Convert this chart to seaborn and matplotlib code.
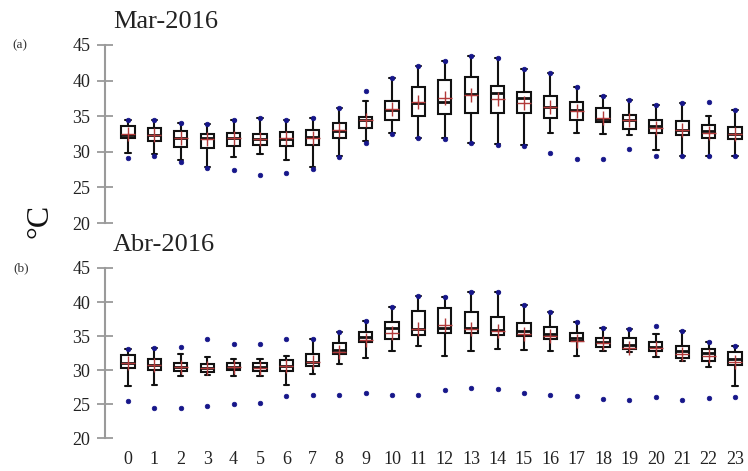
import matplotlib
matplotlib.use("Agg")
import matplotlib.pyplot as plt
import pandas as pd
import seaborn as sns

hours = list(range(24))

# March 2016 hourly temperature statistics (°C)
mar_max = [34.5, 34.5, 34.0, 33.9, 34.4, 34.7, 34.5, 34.7, 36.2, 38.6, 40.4, 42.0,
           42.8, 43.5, 43.2, 41.6, 41.1, 39.1, 37.9, 37.25, 36.55, 36.8, 36.95, 35.9]
mar_whishi = [34.5, 34.5, 34.0, 33.9, 34.4, 34.7, 34.5, 34.7, 36.2, 37.15, 40.4, 42.0,
              42.8, 43.5, 43.2, 41.6, 41.1, 39.1, 37.9, 37.25, 36.55, 36.8, 35.0, 35.9]
mar_q3 = [33.6, 33.35, 32.9, 32.55, 32.7, 32.55, 32.85, 33.1, 34.1, 34.95, 37.15, 39.1,
          40.05, 40.5, 39.2, 38.4, 37.9, 37.0, 36.1, 35.1, 34.45, 34.35, 33.8, 33.5]
mar_med = [32.4, 32.3, 31.95, 31.95, 32.0, 31.8, 31.85, 32.1, 32.95, 34.45, 35.9, 36.9,
           36.95, 38.05, 38.2, 37.6, 36.3, 35.85, 34.6, 34.4, 33.6, 33.1, 32.9, 32.55]
mar_q1 = [31.95, 31.55, 30.7, 30.6, 30.8, 31.0, 30.8, 30.9, 32.0, 33.4, 34.4, 35.0,
          35.3, 35.4, 35.5, 35.4, 34.8, 34.5, 34.2, 33.25, 32.65, 32.3, 31.95, 31.75]
mar_whislo = [29.8, 29.7, 28.8, 27.9, 29.3, 29.75, 28.9, 27.8, 29.4, 31.5, 32.6, 32.0,
              31.9, 31.3, 31.1, 30.9, 32.65, 32.65, 32.55, 32.3, 30.2, 29.45, 29.45, 29.45]
mar_min = [29.2, 29.4, 28.6, 27.7, 27.4, 26.8, 27.0, 27.6, 29.3, 31.3, 32.5, 31.9,
           31.8, 31.2, 31.0, 30.8, 29.8, 29.0, 29.0, 30.45, 29.4, 29.35, 29.35, 29.4]
mar_mean = [32.55, 32.4, 32.0, 31.85, 31.95, 31.8, 31.95, 32.0, 33.1, 34.45, 35.95, 37.0,
            37.6, 37.95, 37.4, 36.9, 36.3, 35.75, 34.8, 34.4, 33.4, 33.1, 32.65, 32.55]

# April 2016 hourly temperature statistics (°C)
abr_max = [33.1, 33.2, 33.35, 34.5, 33.85, 33.85, 34.55, 34.55, 35.6, 37.25, 39.3, 40.9,
           40.8, 41.45, 41.45, 39.5, 38.5, 37.05, 36.2, 36.1, 36.45, 35.7, 34.1, 33.5]
abr_whishi = [33.1, 33.2, 32.4, 31.85, 31.6, 31.6, 32.05, 34.55, 35.6, 37.25, 39.3, 40.9,
              40.8, 41.45, 41.45, 39.5, 38.5, 37.05, 36.2, 36.1, 35.3, 35.7, 34.1, 33.5]
abr_q3 = [32.15, 31.65, 31.05, 30.9, 31.05, 31.0, 31.45, 32.3, 33.95, 35.6, 37.05, 38.75,
          39.05, 38.55, 37.75, 36.85, 36.35, 35.5, 34.7, 34.65, 34.15, 33.55, 33.05, 32.7]
abr_med = [31.0, 30.75, 30.5, 30.35, 30.45, 30.4, 30.6, 31.2, 32.95, 34.8, 36.2, 36.0,
           36.25, 36.2, 35.9, 35.8, 35.3, 34.65, 34.1, 33.65, 33.45, 32.85, 32.45, 31.55]
abr_q1 = [30.25, 30.0, 29.85, 29.7, 29.95, 29.9, 29.85, 30.6, 32.4, 34.05, 34.6, 35.2,
          35.4, 35.5, 35.2, 35.0, 34.55, 34.2, 33.4, 33.05, 32.85, 31.75, 31.3, 30.7]
abr_whislo = [27.65, 27.75, 29.1, 29.25, 29.1, 29.1, 27.75, 29.35, 30.9, 31.75, 32.8, 33.6,
              32.1, 32.85, 33.1, 32.95, 32.8, 32.1, 32.8, 32.7, 31.95, 31.35, 30.5, 27.7]
abr_min = [25.45, 24.35, 24.45, 24.7, 25.05, 25.1, 26.2, 26.35, 26.35, 26.55, 26.35, 26.3,
           27.1, 27.4, 27.25, 26.55, 26.3, 26.2, 25.8, 25.55, 26.0, 25.55, 25.9, 26.1]
abr_mean = [31.1, 30.7, 30.5, 30.3, 30.4, 30.35, 30.6, 31.2, 32.7, 34.4, 35.5, 36.1,
            36.6, 36.1, 35.8, 35.3, 35.0, 34.3, 33.9, 33.3, 33.2, 32.3, 32.0, 31.2]

yticks = [20, 25, 30, 35, 40, 45]

sns.set_style("white")
plt.rcParams["font.family"] = ["Liberation Serif", "DejaVu Serif"]

fig = plt.figure(figsize=(7.48, 4.71), dpi=100)
ax_top = fig.add_axes([0.1404, 0.5265, 0.8596, 0.378])
ax_bot = fig.add_axes([0.1404, 0.0700, 0.8596, 0.361])

DOT = "#16168a"
MEAN = "#b23a3a"


def draw_panel(ax, vmax, whishi, q3, med, q1, whislo, vmin, vmean):
    stats = [dict(med=m, q1=a, q3=b, whislo=lo, whishi=hi, fliers=[])
             for m, a, b, lo, hi in zip(med, q1, q3, whislo, whishi)]
    ax.bxp(stats, positions=hours, widths=0.5, capwidths=0.2,
           patch_artist=True, manage_ticks=False,
           boxprops=dict(facecolor="white", edgecolor="#111111", linewidth=1.5),
           whiskerprops=dict(color="#111111", linewidth=1.5),
           capprops=dict(color="#111111", linewidth=1.5),
           medianprops=dict(color="#111111", linewidth=2.0))
    dots = pd.DataFrame({"hour": hours * 2, "temp": list(vmax) + list(vmin)})
    sns.scatterplot(data=dots, x="hour", y="temp", ax=ax, color=DOT, s=11,
                    edgecolor=DOT, linewidth=0.5, zorder=5, legend=False)
    means = pd.DataFrame({"hour": hours, "temp": vmean})
    sns.scatterplot(data=means, x="hour", y="temp", ax=ax, color=MEAN, marker="+",
                    s=90, linewidth=1.0, zorder=6, legend=False)
    ax.set_xlim(-0.87, 23.49)
    ax.set_ylim(20, 45)
    ax.set_yticks(yticks)
    ax.set_xlabel("")
    ax.set_ylabel("")
    for side in ("top", "right", "bottom"):
        ax.spines[side].set_visible(False)
    ax.spines["left"].set_color("#9a9a9a")
    ax.spines["left"].set_linewidth(1.5)
    ax.tick_params(axis="y", left=True, direction="inout", length=11, width=1.3,
                   color="#9a9a9a", labelsize=13, labelcolor="#222222", pad=5)
    ax.set_facecolor("none")


draw_panel(ax_top, mar_max, mar_whishi, mar_q3, mar_med, mar_q1, mar_whislo, mar_min, mar_mean)
draw_panel(ax_bot, abr_max, abr_whishi, abr_q3, abr_med, abr_q1, abr_whislo, abr_min, abr_mean)

ax_top.set_xticks([])
ax_bot.set_xticks(hours)
ax_bot.set_xticklabels([str(h) for h in hours])
ax_bot.tick_params(axis="x", length=0, labelsize=13, labelcolor="#222222", pad=9)

fig.text(0.151, 0.953, "Mar-2016", fontsize=19, ha="left", va="center", color="#222222")
fig.text(0.151, 0.480, "Abr-2016", fontsize=19, ha="left", va="center", color="#222222")
fig.text(0.016, 0.904, "(a)", fontsize=9.5, ha="left", va="center", color="#333333")
fig.text(0.018, 0.431, "(b)", fontsize=9.5, ha="left", va="center", color="#333333")
fig.text(0.053, 0.531, "°C", fontsize=23, rotation=90, ha="center", va="center", color="#111111")

fig.savefig("out.png", dpi=100)
